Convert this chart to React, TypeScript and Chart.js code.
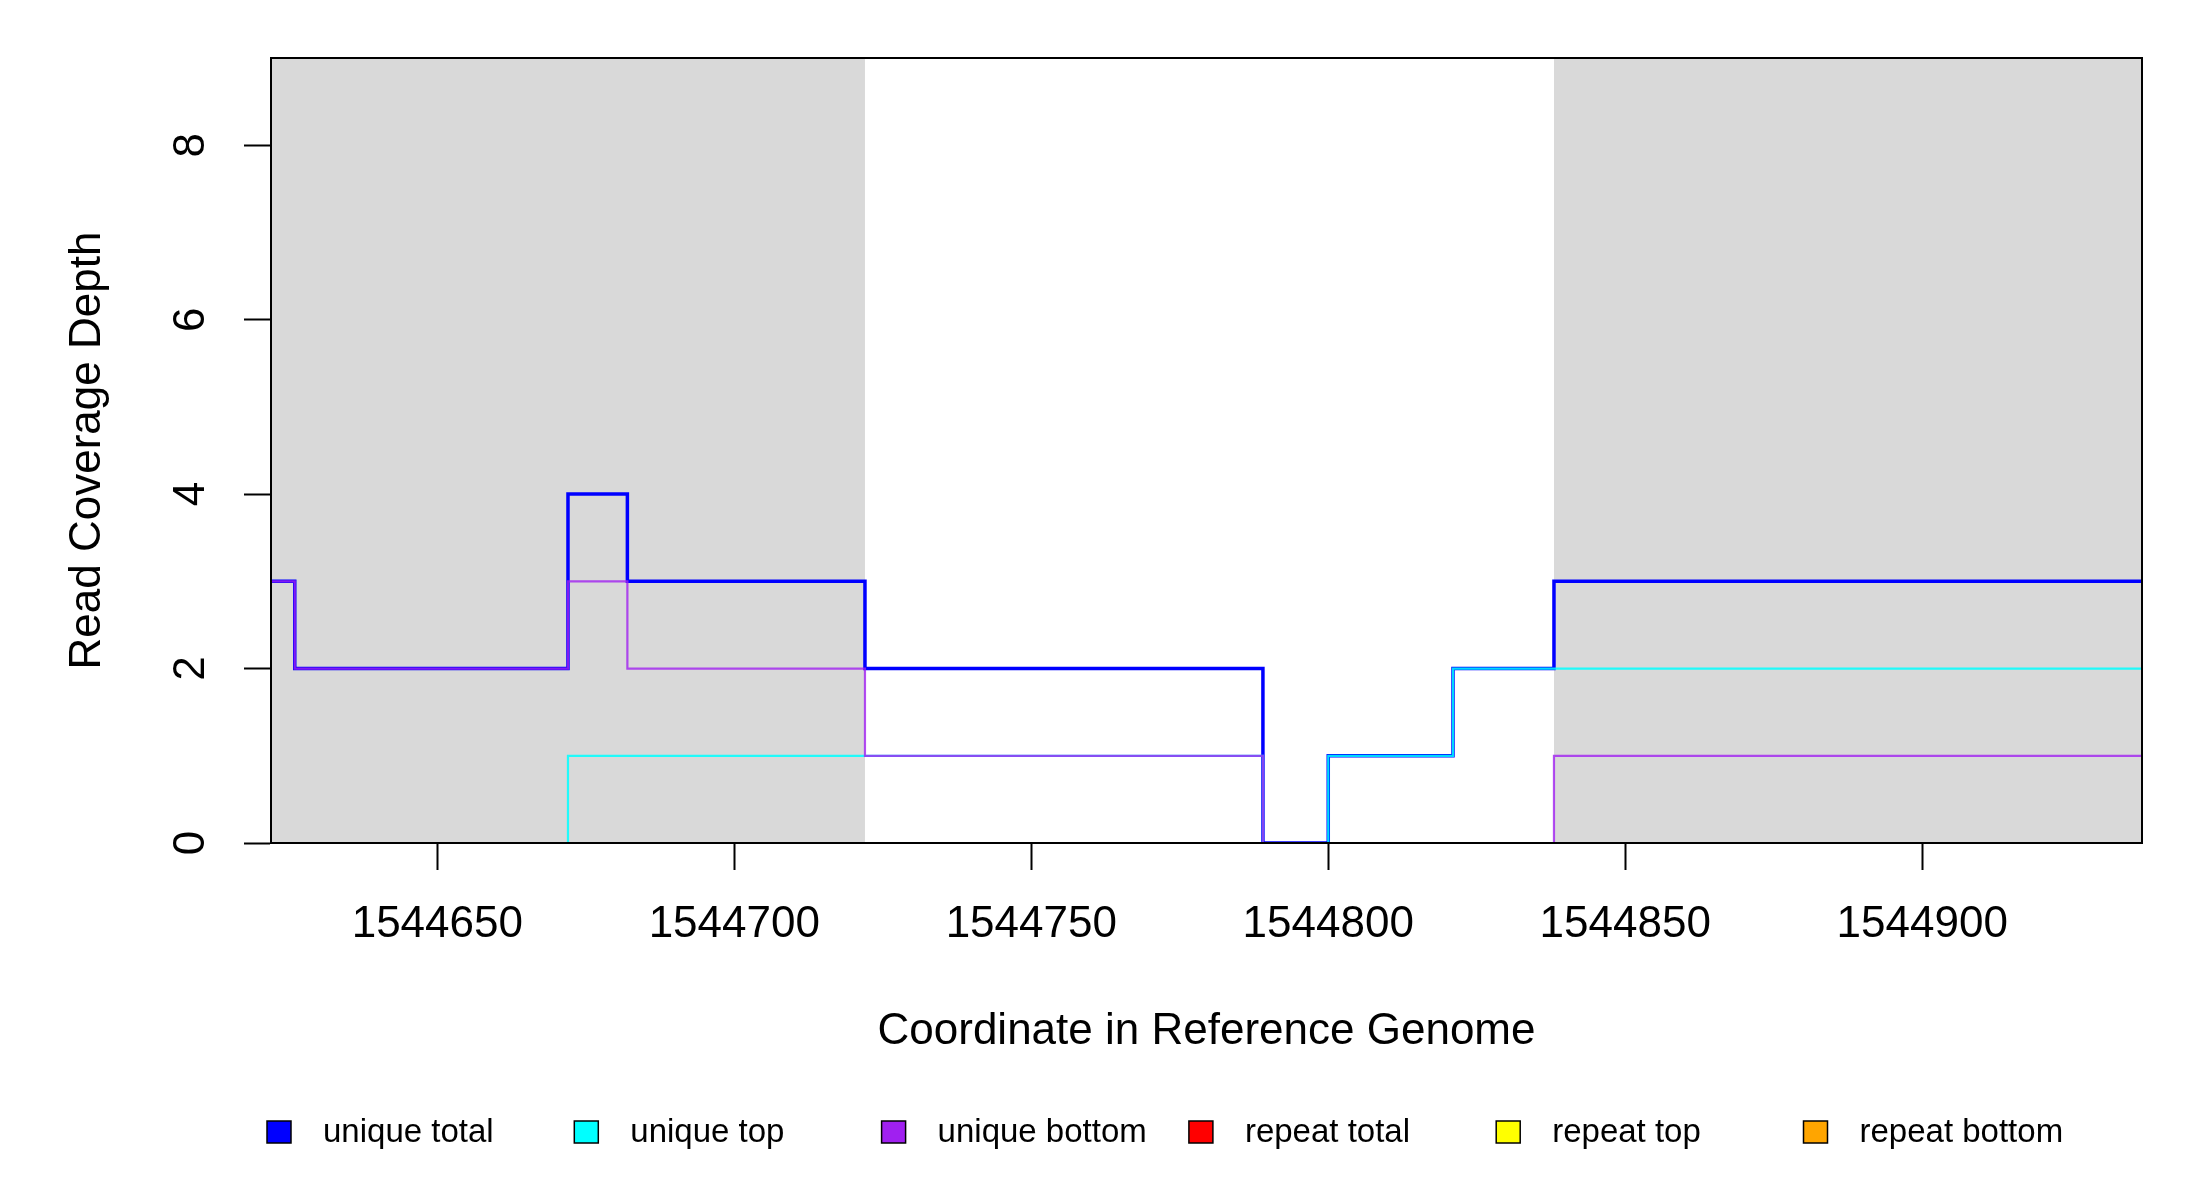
import React, { useEffect, useRef } from "react";
import { Chart, registerables } from "chart.js";

Chart.register(...registerables);

// Step breakpoints (genome coordinate where each value starts)
const positions = [1544622, 1544626, 1544672, 1544682, 1544722, 1544789, 1544800, 1544821, 1544838, 1544937];
const uniqueTotal = [3, 2, 4, 3, 2, 0, 1, 2, 3, 3];
const uniqueTop = [0, 0, 1, 1, 1, 0, 1, 2, 2, 2];
const uniqueBottom = [3, 2, 3, 2, 1, 0, 0, 0, 1, 1];
const repeatTotal = [0, 0, 0, 0, 0, 0, 0, 0, 0, 0];
const repeatTop = [0, 0, 0, 0, 0, 0, 0, 0, 0, 0];
const repeatBottom = [0, 0, 0, 0, 0, 0, 0, 0, 0, 0];

const xTicks = [1544650, 1544700, 1544750, 1544800, 1544850, 1544900];
const yTicks = [0, 2, 4, 6, 8];
const xMin = 1544622;
const xMax = 1544937;
const yMin = 0;
const yMax = 9;

// Shaded (gray) regions
const shadeStarts = [1544622, 1544838];
const shadeEnds = [1544722, 1544937];

const seriesLabels = ["unique total", "unique top", "unique bottom", "repeat total", "repeat top", "repeat bottom"];
const seriesColors = ["#0000FF", "#00FFFF", "#A020F0", "#FF0000", "#FFFF00", "#FFA500"];
const seriesLineColors = ["#0000FF", "rgba(0,255,255,0.85)", "rgba(160,32,240,0.8)", "#FF0000", "#FFFF00", "#FFA500"];
const seriesWidths = [3.5, 2.2, 2.2, 2.2, 2.2, 2.2];
const seriesOrder = [3, 2, 1, 6, 5, 4];

const FONT = "'Liberation Sans', Arial, Helvetica, sans-serif";

export default function App() {
  const canvasRef = useRef<HTMLCanvasElement | null>(null);

  useEffect(() => {
    document.body.style.margin = "0";
    const canvas = canvasRef.current;
    if (!canvas) return;

    const seriesValues = [uniqueTotal, uniqueTop, uniqueBottom, repeatTotal, repeatTop, repeatBottom];

    const lineDatasets = seriesValues.map((vals, i) => ({
      type: "line" as const,
      label: seriesLabels[i],
      data: positions.map((x, j) => ({ x, y: vals[j] })),
      borderColor: seriesLineColors[i],
      backgroundColor: seriesColors[i],
      borderWidth: seriesWidths[i],
      stepped: "before" as const,
      pointRadius: 0,
      fill: false,
      order: seriesOrder[i],
    }));

    const shadeDatasets = shadeStarts.map((s, i) => ({
      type: "line" as const,
      label: "shade" + i,
      data: [
        { x: s, y: yMax },
        { x: shadeEnds[i], y: yMax },
      ],
      borderWidth: 0,
      borderColor: "rgba(0,0,0,0)",
      backgroundColor: "#D9D9D9",
      pointRadius: 0,
      fill: "origin",
      order: 20 + i,
    }));

    const framePlugin = {
      id: "frameAndLegend",
      afterDraw(chart: any) {
        const { ctx, chartArea } = chart;
        ctx.save();
        ctx.strokeStyle = "#000";
        ctx.lineWidth = 2;
        ctx.strokeRect(chartArea.left, chartArea.top, chartArea.right - chartArea.left, chartArea.bottom - chartArea.top);

        // legend
        const cy = 1132;
        ctx.font = `33px ${FONT}`;
        ctx.textBaseline = "middle";
        ctx.textAlign = "left";
        for (let i = 0; i < seriesLabels.length; i++) {
          const cx = 279 + i * 307.3;
          ctx.fillStyle = seriesColors[i];
          ctx.fillRect(cx - 12, cy - 11, 24, 22);
          ctx.lineWidth = 1.5;
          ctx.strokeStyle = "#000";
          ctx.strokeRect(cx - 12, cy - 11, 24, 22);
          ctx.fillStyle = "#000";
          ctx.fillText(seriesLabels[i], cx + 44, cy + 1);
        }
        ctx.restore();
      },
    };

    const chart = new Chart(canvas, {
      type: "line",
      data: { datasets: [...lineDatasets, ...shadeDatasets] as any },
      options: {
        animation: false,
        responsive: true,
        maintainAspectRatio: false,
        layout: { padding: { left: 0, right: 58, top: 58, bottom: 0 } },
        plugins: {
          legend: { display: false },
          tooltip: { enabled: false },
        },
        events: [],
        scales: {
          x: {
            type: "linear",
            min: xMin,
            max: xMax,
            afterBuildTicks: (scale: any) => {
              scale.ticks = xTicks.map((v) => ({ value: v }));
            },
            afterFit: (scale: any) => {
              scale.height = 357;
              scale.paddingLeft = 0;
              scale.paddingRight = 0;
            },
            ticks: {
              autoSkip: false,
              maxRotation: 0,
              minRotation: 0,
              padding: 28,
              color: "#000",
              font: { family: FONT, size: 44 },
              callback: (v: any) => String(v),
            },
            grid: {
              drawOnChartArea: false,
              drawTicks: true,
              tickLength: 27,
              tickWidth: 2,
              tickColor: "#000",
            },
            border: { display: true, color: "#000", width: 2 },
            title: {
              display: true,
              text: "Coordinate in Reference Genome",
              color: "#000",
              font: { family: FONT, size: 44 },
              padding: { top: 0, bottom: 142 },
            },
          },
          y: {
            type: "linear",
            min: yMin,
            max: yMax,
            afterBuildTicks: (scale: any) => {
              scale.ticks = yTicks.map((v) => ({ value: v }));
            },
            afterFit: (scale: any) => {
              scale.width = 271;
              scale.paddingTop = 0;
              scale.paddingBottom = 0;
            },
            ticks: {
              autoSkip: false,
              minRotation: 90,
              maxRotation: 90,
              crossAlign: "center",
              padding: 40,
              color: "#000",
              font: { family: FONT, size: 44 },
              callback: (v: any) => String(v),
            },
            grid: {
              drawOnChartArea: false,
              drawTicks: true,
              tickLength: 27,
              tickWidth: 2,
              tickColor: "#000",
            },
            border: { display: true, color: "#000", width: 2 },
            title: {
              display: true,
              text: "Read Coverage Depth",
              color: "#000",
              font: { family: FONT, size: 44 },
              padding: { top: 61, bottom: 0 },
            },
          },
        },
      },
      plugins: [framePlugin],
    });

    return () => {
      chart.destroy();
    };
  }, []);

  return (
    <div style={{ width: "2200px", height: "1200px", position: "relative" }}>
      <canvas ref={canvasRef} />
    </div>
  );
}
